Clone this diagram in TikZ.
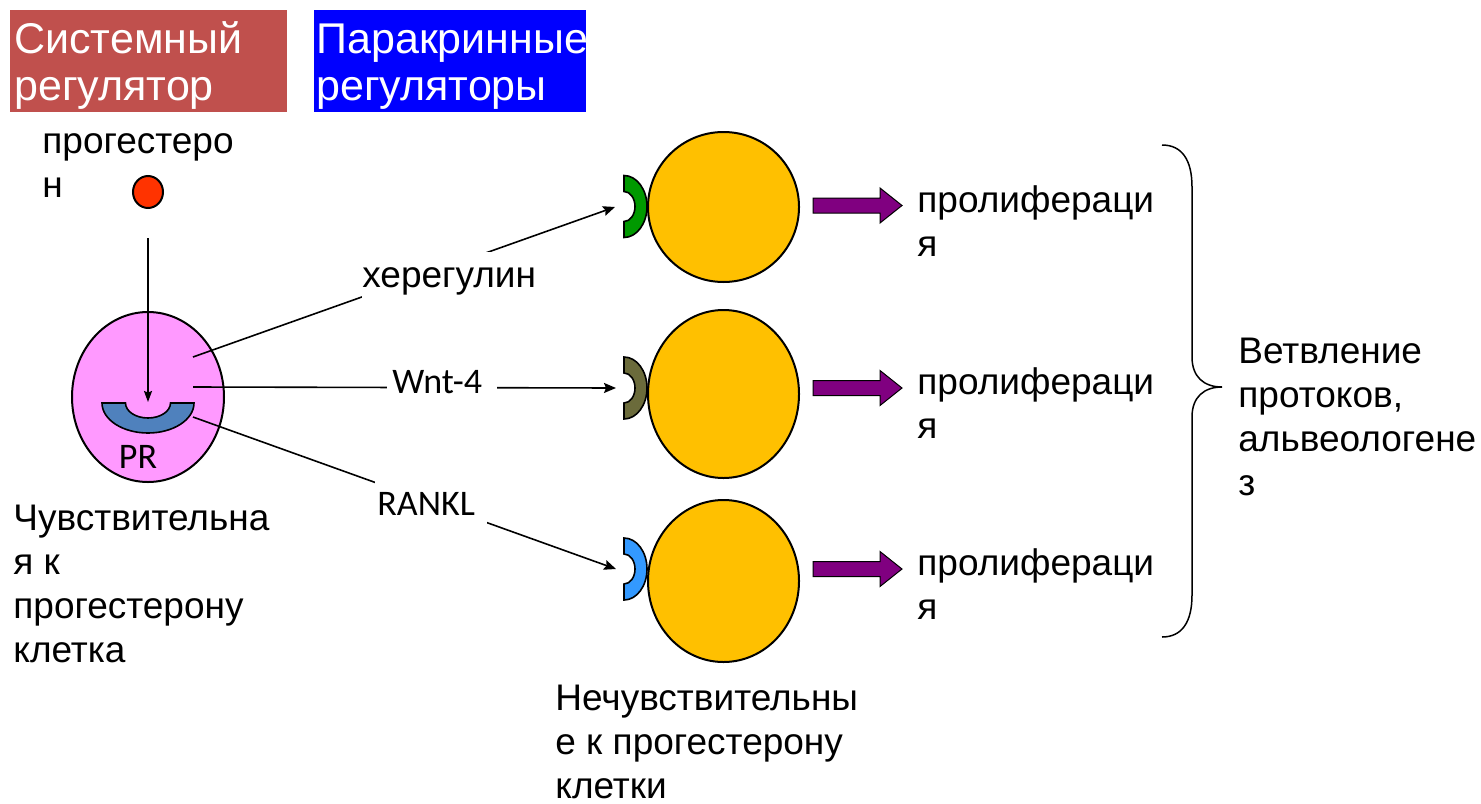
\documentclass[tikz,border=0pt]{standalone}
\usepackage{fontspec}
\setmainfont{Liberation Sans}
\newfontfamily\calfont{Carlito}
\usetikzlibrary{arrows.meta,shapes.geometric}

\definecolor{sysred}{RGB}{192,80,77}
\definecolor{parablue}{RGB}{0,0,255}
\definecolor{cellpink}{RGB}{255,153,255}
\definecolor{cellorange}{RGB}{255,192,0}
\definecolor{prblue}{RGB}{79,129,189}
\definecolor{hormone}{RGB}{255,51,0}
\definecolor{recgreen}{RGB}{0,153,0}
\definecolor{recolive}{RGB}{107,107,59}
\definecolor{recblue}{RGB}{51,153,255}
\definecolor{prolif}{RGB}{128,0,128}

\begin{document}
% multi-line text nodes are placed by the baseline of their last line
\begin{tikzpicture}[x=0.5pt,y=-0.5pt,
  hdrbox/.style={anchor=north west,inner sep=0,minimum height=51pt},
  hdrtxt/.style={anchor=base west,inner sep=0,align=left,text=white,
    font=\fontsize{21.5}{23.5}\selectfont},
  txt/.style={anchor=base west,inner sep=0,align=left,
    font=\fontsize{18.5}{22}\selectfont},
  siglabel/.style={anchor=base west,inner sep=0,fill=white,
    text height=17.5pt,text depth=6pt,font=\calfont\fontsize{18}{22}\selectfont},
  cell/.style={ellipse,draw=black,line width=1pt,inner sep=0},
  signal/.style={draw=black,line width=0.8pt,
    -{Stealth[length=6pt,width=5pt,inset=1pt]}},
  receptor/.pic={\path[pic actions] (0,-31)
      arc[start angle=-90,end angle=90,x radius=23,y radius=31] -- (0,15)
      arc[start angle=90,end angle=-90,x radius=11,y radius=15] -- cycle;},
  growarrow/.pic={\path[pic actions] (0,-7.5) -- (67,-7.5) -- (67,-17.5)
      -- (89,0) -- (67,17.5) -- (67,7.5) -- (0,7.5) -- cycle;},
  recstyle/.style={draw=black,line width=0.8pt},
  arrowstyle/.style={fill=prolif,draw=black,line width=0.5pt}
]
\useasboundingbox (0,0) rectangle (1481,803);

% header boxes
\node[hdrbox,fill=sysred,minimum width=138.5pt] (sysbox) at (10,10) {};
\node[hdrtxt] (systxt) at (14,100) {Системный\\регулятор};
\node[hdrbox,fill=parablue,minimum width=136pt] (parabox) at (314,10) {};
\node[hdrtxt] (paratxt) at (316,100) {Паракринные\\регуляторы};

% hormone
\node[txt] (progtxt) at (42,197) {прогестеро\\н};
\node[ellipse,draw=black,line width=1pt,fill=hormone,inner sep=0,
  minimum width=15pt,minimum height=16pt] (hormone) at (148,192) {};

% progesterone-sensitive cell
\node[cell,fill=cellpink,minimum width=76pt,minimum height=85pt] (pcell) at (148,397) {};
\path[fill=prblue,draw=black,line width=0.8pt] (102,403)
  arc[start angle=180,end angle=0,x radius=46,y radius=30] -- (170.5,403)
  arc[start angle=0,end angle=180,x radius=22.5,y radius=15] -- cycle;
\node[anchor=base,inner sep=0,font=\calfont\fontsize{18}{22}\selectfont] (prtxt) at (138,468) {PR};
\coordinate (hstart) at (148,238);
\coordinate (prsite) at (148,402);
\draw[draw=black,line width=0.8pt,-{Stealth[length=5.5pt,width=4pt,inset=0.8pt]}] (hstart) -- (prsite);

\node[txt] (senstxt) at (13,662) {Чувствительна\\я к\\прогестерону\\клетка};

% insensitive cells
\node[cell,fill=cellorange,minimum width=75.5pt,minimum height=75pt] (cellA) at (723.5,207) {};
\node[cell,fill=cellorange,minimum width=75.5pt,minimum height=84pt] (cellB) at (723.5,394) {};
\node[cell,fill=cellorange,minimum width=75.5pt,minimum height=81pt] (cellC) at (723.5,581) {};

\pic[recstyle,fill=recgreen] at (624,206.5) {receptor};
\pic[recstyle,fill=recolive] at (624,388) {receptor};
\pic[recstyle,fill=recblue] at (624,569) {receptor};

\coordinate (recA) at (615,207);
\coordinate (recB) at (616,388);
\coordinate (recC) at (616,569);

\node[txt] (insenstxt) at (555,798) {Нечувствительны\\е к прогестерону\\клетки};

% paracrine signals, labels sit on white boxes over the lines
\coordinate (srcA) at (193,357);
\coordinate (srcB) at (193,387);
\coordinate (srcC) at (193,417);
\draw[signal] (srcA) -- (recA);
\draw[signal] (srcB) -- (recB);
\draw[signal] (srcC) -- (recC);
\node[siglabel,font=\fontsize{18.5}{22}\selectfont] (hrgtxt) at (362,287) {херегулин};
\node[siglabel] (wnttxt) at (387,393) {\kern2.5pt Wnt-4\kern7.5pt};
\node[siglabel] (rankltxt) at (375,515) {\kern1pt RANKL\kern6pt};

% proliferation
\pic[arrowstyle] at (813,205.5) {growarrow};
\pic[arrowstyle] at (813,388) {growarrow};
\pic[arrowstyle] at (813,569) {growarrow};
\node[txt] (prolA) at (917,256) {пролифераци\\я};
\node[txt] (prolB) at (917,438.5) {пролифераци\\я};
\node[txt] (prolC) at (917,619.5) {пролифераци\\я};

% brace and outcome
\draw[line width=0.75pt] (1162,145) .. controls (1182,145) and (1192,160) .. (1192,187)
  -- (1192,357) .. controls (1192,377) and (1204,387) .. (1222,387)
  .. controls (1204,387) and (1192,397) .. (1192,417)
  -- (1192,595) .. controls (1192,622) and (1182,637) .. (1162,637);
\node[txt] (outtxt) at (1238,495) {Ветвление\\протоков,\\альвеологене\\з};
\end{tikzpicture}
\end{document}
